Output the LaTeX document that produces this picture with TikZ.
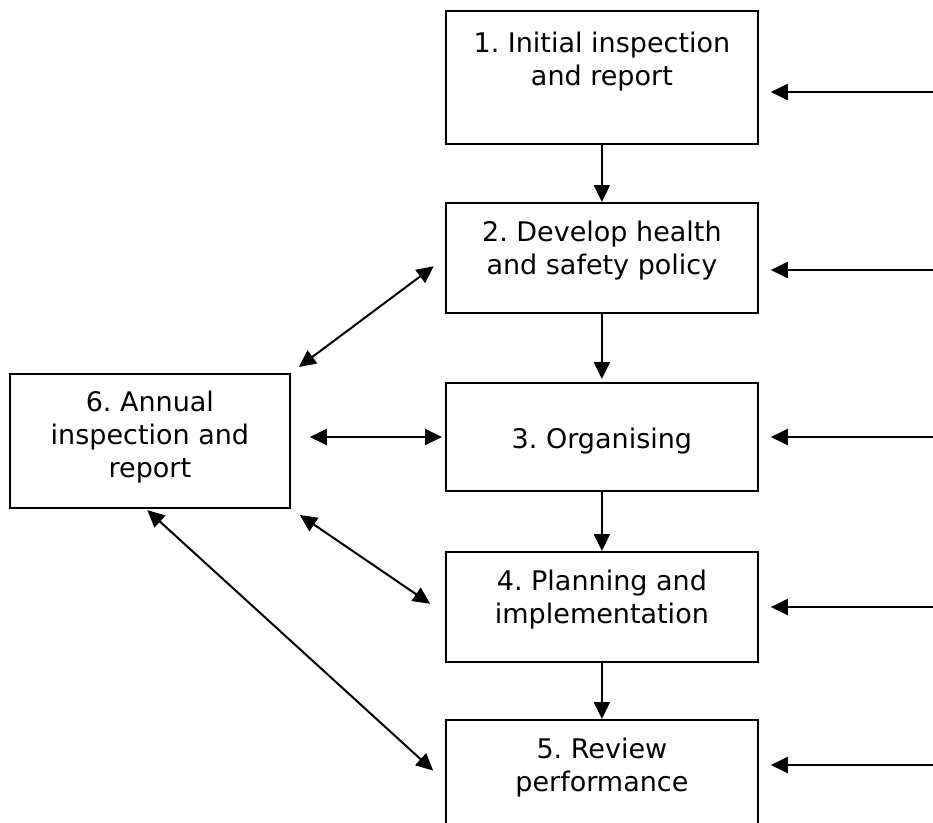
\documentclass[tikz,border=0pt]{standalone}
\usepackage{fontspec}
\setmainfont{DejaVu Sans}
\usetikzlibrary{arrows.meta,calc}
\newcommand\boxtext[4]{\parbox[c][#2pt][t]{#1pt}{\centering\frenchspacing\fontsize{27}{33}\selectfont\vspace*{#3pt}#4\par}}
\begin{document}
\begin{tikzpicture}[x=1pt,y=-1pt,
  box/.style={draw, line width=1.8pt, inner sep=0pt, anchor=north west},
  tip/.style={Triangle[length=17pt,width=16pt]},
  conn/.style={line width=2pt, -{Triangle[length=17pt,width=16pt]}},
  dconn/.style={line width=2pt, {Triangle[length=17pt,width=16pt]}-{Triangle[length=17pt,width=16pt]}}]
\clip (0,0) rectangle (933,822);
\fill[white] (0,0) rectangle (933,822);

\node[box] (b1) at (445,10)  {\boxtext{312}{133}{21}{1. Initial inspection\\and report}};
\node[box] (b2) at (445,202) {\boxtext{312}{110}{18}{2. Develop health\\and safety policy}};
\node[box] (b3) at (445,382) {\boxtext{312}{108}{45}{3. Organising}};
\node[box] (b4) at (445,551) {\boxtext{312}{110}{18}{4. Planning and\\implementation}};
\node[box] (b5) at (445,719) {\boxtext{312}{111}{18}{5. Review\\performance}};
\node[box] (b6) at (9,373)   {\boxtext{280}{134}{17}{6. Annual\\inspection and\\report}};

\draw[conn] (b1) -- (b2);
\draw[conn, shorten >=3pt] (b2) -- (b3);
\draw[conn] (b3) -- (b4);
\draw[conn] (b4) -- (b5);

\coordinate (r1) at (936,92);
\coordinate (r2) at (936,270);
\coordinate (r3) at (936,437);
\coordinate (r4) at (936,607);
\coordinate (r5) at (936,765);
\draw[conn, shorten >=12pt] (r1) -- (r1 -| b1.east);
\draw[conn, shorten >=12pt] (r2) -- (r2 -| b2.east);
\draw[conn, shorten >=12pt] (r3) -- (r3 -| b3.east);
\draw[conn, shorten >=12pt] (r4) -- (r4 -| b4.east);
\draw[conn, shorten >=12pt] (r5) -- (r5 -| b5.east);

\draw[dconn, shorten <=10pt, shorten >=14pt] (b6.north east) -- (b2.west);
\draw[dconn, shorten <=19pt, shorten >=3pt] (b6.east |- r3) -- (b3.west |- r3);
\draw[dconn, shorten <=11pt, shorten >=18pt] (b6.south east) -- ($(b4.west)+(0,7)$);
\draw[dconn, shorten <=2pt, shorten >=16pt] ($(b6.south)+(-4,0)$) -- ($(b5.west)+(0,6)$);
\end{tikzpicture}
\end{document}
